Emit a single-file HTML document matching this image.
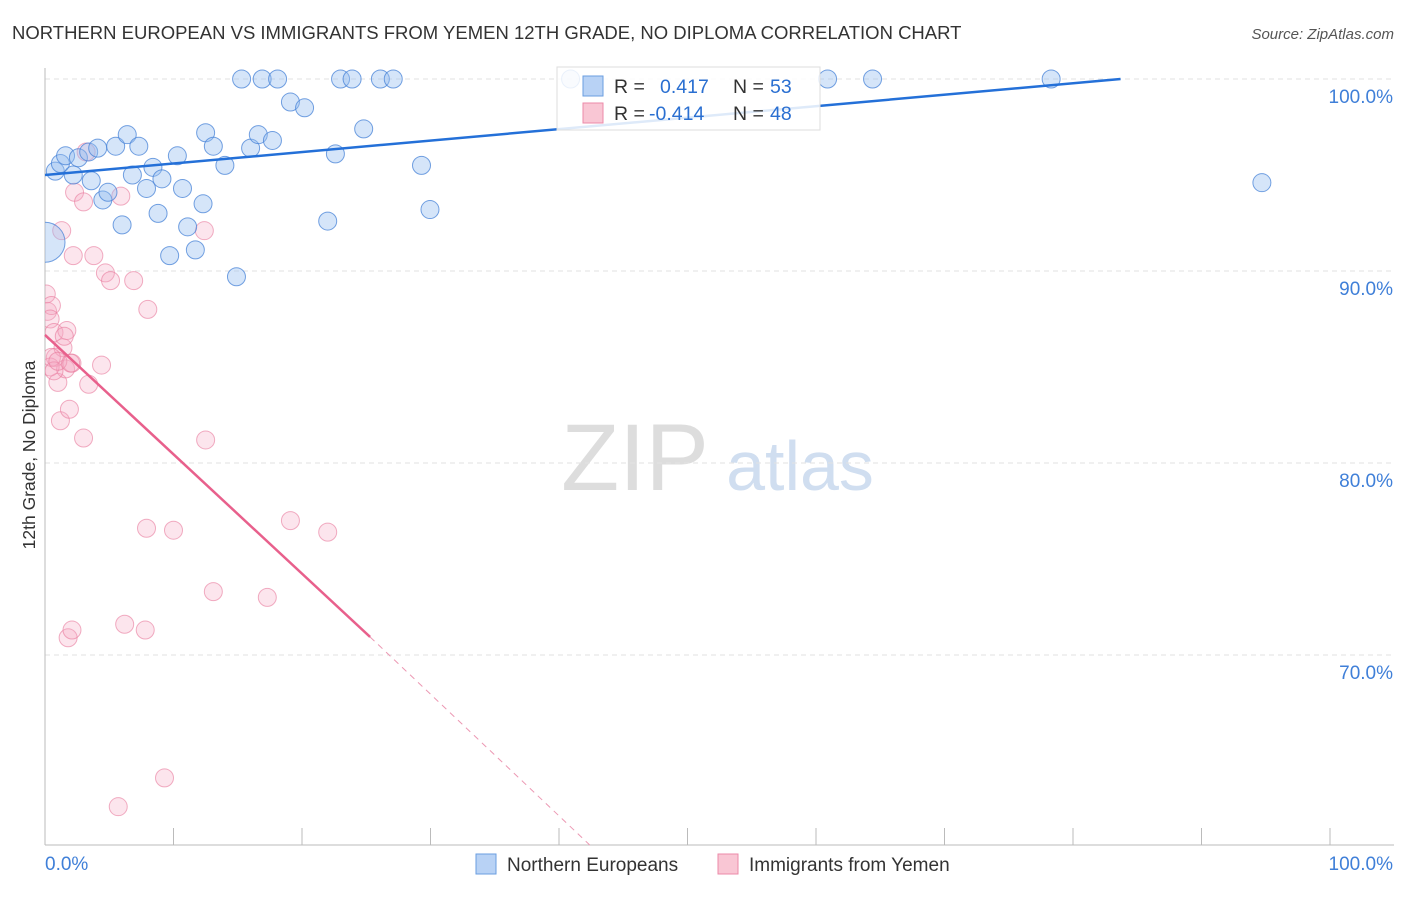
<!DOCTYPE html>
<html><head><meta charset="utf-8"><style>
body{margin:0;background:#fff;font-family:"Liberation Sans",sans-serif}
svg text{font-family:"Liberation Sans",sans-serif}
</style></head><body>
<svg id="chart" width="1406" height="892">
<defs><clipPath id="plotclip"><rect x="45" y="40" width="1360" height="805"/></clipPath></defs>
<text x="12" y="39" font-size="18.5" fill="#333">NORTHERN EUROPEAN VS IMMIGRANTS FROM YEMEN 12TH GRADE, NO DIPLOMA CORRELATION CHART</text>
<text x="1394" y="39" font-size="15" fill="#555" font-style="italic" text-anchor="end">Source: ZipAtlas.com</text>
<text x="35" y="455" font-size="17.5" fill="#333" text-anchor="middle" transform="rotate(-90 35 455)">12th Grade, No Diploma</text>
<g><text x="635" y="490" font-size="95" fill="#ddd" font-family="Liberation Serif" text-anchor="middle">ZIP</text><text x="800" y="490" font-size="70" fill="#d0def0" text-anchor="middle">atlas</text></g>
<g id="grid"></g><g id="ticks"></g><g id="pts" clip-path="url(#plotclip)"></g><g id="lines"></g>
<g>
<rect x="557" y="67" width="263" height="63" fill="rgba(255,255,255,0.85)" stroke="#ddd"/>
<rect x="583" y="76" width="20" height="20" fill="#b8d2f5" stroke="#6a9ee0"/>
<rect x="583" y="103" width="20" height="20" fill="#f9c6d4" stroke="#ec8aa8"/>
<text x="614" y="93" font-size="19.5" fill="#333">R = </text><text x="660" y="93" font-size="19.5" fill="#2a6fd1">0.417</text>
<text x="733" y="93" font-size="19.5" fill="#333">N = </text><text x="770" y="93" font-size="19.5" fill="#2a6fd1">53</text>
<text x="614" y="120" font-size="19.5" fill="#333">R = </text><text x="649" y="120" font-size="19.5" fill="#2a6fd1">-0.414</text>
<text x="733" y="120" font-size="19.5" fill="#333">N = </text><text x="770" y="120" font-size="19.5" fill="#2a6fd1">48</text>
</g>
<g>
<rect x="476" y="854" width="20" height="20" fill="#b8d2f5" stroke="#6a9ee0"/>
<text x="507" y="871" font-size="19" fill="#333">Northern Europeans</text>
<rect x="718" y="854" width="20" height="20" fill="#f9c6d4" stroke="#ec8aa8"/>
<text x="749" y="871" font-size="19" fill="#333">Immigrants from Yemen</text>
</g>
</svg>
<script>
const yTicks=[100,90,80,70];
const xTickLabels=["0.0%","100.0%"];
const blueX=[0.8,1.2,1.6,2.2,2.6,3.4,3.6,4.1,4.5,4.9,5.5,6.0,6.4,6.8,7.3,7.9,8.4,8.8,9.1,9.7,10.3,10.7,11.1,11.7,12.3,12.5,13.1,14.0,14.9,15.3,16.0,16.6,16.9,17.7,18.1,19.1,20.2,22.0,22.6,23.0,23.9,24.8,26.1,27.1,29.3,29.96,40.9,60.9,64.4,78.3,94.7,0];
const blueY=[95.2,95.6,96.0,95.0,95.9,96.2,94.7,96.4,93.7,94.1,96.5,92.4,97.1,95.0,96.5,94.3,95.4,93.0,94.8,90.8,96.0,94.3,92.3,91.1,93.5,97.2,96.5,95.5,89.7,100,96.4,97.1,100,96.8,100,98.8,98.5,92.6,96.1,100,100,97.4,100,100,95.5,93.2,100,100,100,100,94.6,91.5];
const pinkX=[0.1,0.2,0.5,0.4,0.7,0.8,1.0,1.2,1.3,1.4,1.6,1.7,1.8,1.9,2.1,2.1,2.2,2.3,3.0,3.0,3.2,3.4,3.8,4.4,4.7,5.1,5.7,5.9,6.2,6.9,7.8,7.9,8.0,9.3,10.0,12.4,12.5,13.1,17.3,19.1,22.0,0.4,0.5,0.7,1.0,1.5,2.0];
const pinkY=[88.8,87.9,88.2,87.5,86.8,85.5,84.2,82.2,92.1,86.0,84.9,86.9,70.9,82.8,71.3,85.2,90.8,94.1,93.6,81.3,96.2,84.1,90.8,85.1,89.9,89.5,62.1,93.9,71.6,89.5,71.3,76.6,88.0,63.6,76.5,92.1,81.2,73.3,73.0,77.0,76.4,85.0,85.5,84.8,85.3,86.6,85.2];
const X=v=>45+v*12.85, Y=v=>79+(100-v)*19.2;
const ns="http://www.w3.org/2000/svg";
function mk(tag,attrs,parent){const e=document.createElementNS(ns,tag);for(const k in attrs)e.setAttribute(k,attrs[k]);document.getElementById(parent).appendChild(e);return e;}
yTicks.forEach(t=>{
 const l=mk('line',{x1:45,x2:1394,y1:Y(t),y2:Y(t),stroke:'#e2e2e2','stroke-dasharray':'5,4'},'grid');
 
 
 const tx=mk('text',{x:1393,y:Y(t)+24,'font-size':19,fill:'#3f7fd8','text-anchor':'end'},'grid');
 tx.textContent=t.toFixed(1)+'%';
 
 
});
const ax=mk('line',{x1:45,x2:45,y1:68,y2:845,stroke:'#bbb'},'ticks');


const bx=mk('line',{x1:45,x2:1394,y1:845,y2:845,stroke:'#bbb'},'ticks');


for(let i=0;i<=10;i++){const t=mk('line',{x1:X(i*10),x2:X(i*10),y1:828,y2:845,stroke:'#bbb'},'ticks');
 
 }
[[45,'start',0],[1393,'end',1]].forEach(([x,a,i])=>{const t=mk('text',{x:x,y:870,'font-size':19,fill:'#3f7fd8','text-anchor':a},'ticks');t.textContent=xTickLabels[i];
 
 });
pinkX.forEach((v,i)=>{const c=mk('circle',{cx:X(v),cy:Y(pinkY[i]),r:9,fill:'rgba(246,170,195,0.3)',stroke:'rgba(232,120,155,0.6)','stroke-width':1},'pts');
 
 });
blueX.forEach((v,i)=>{const big=i==blueX.length-1;const c=mk('circle',{cx:X(v),cy:Y(blueY[i]),r:big?20:9,fill:'rgba(150,190,240,0.4)',stroke:'rgba(70,130,215,0.75)','stroke-width':1},'pts');
 
 });
const b=mk('line',{x1:X(0),y1:Y(95.0),x2:X(83.7),y2:Y(100),stroke:'#2470d8','stroke-width':2.5},'lines');


const p=mk('line',{x1:X(0),y1:Y(86.67),x2:X(25.3),y2:Y(70.94),stroke:'#e8608c','stroke-width':2.5},'lines');


const pd=mk('line',{x1:X(25.3),y1:Y(70.94),x2:X(42.4),y2:Y(60.1),stroke:'#ec98b3','stroke-width':1,'stroke-dasharray':'6,5'},'lines');


</script>
</body></html>
